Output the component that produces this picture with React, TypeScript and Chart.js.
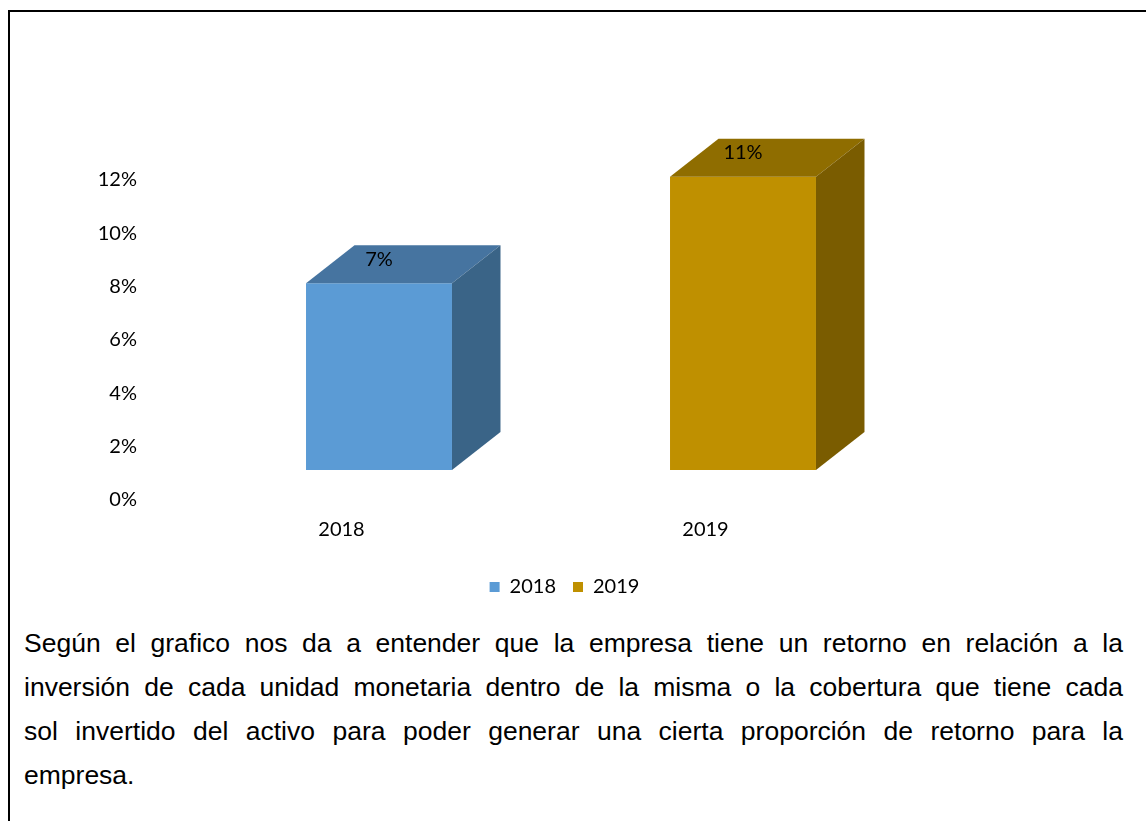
import { useEffect, useRef } from "react";
import { Chart, registerables } from "chart.js";

Chart.register(...registerables);

const categories = ["2018", "2019"];
const values = [7, 11];
const yTicks = [0, 2, 4, 6, 8, 10, 12];
const legendLabels = ["2018", "2019"];
const frontColors = ["#5B9BD5", "#BF9000"];
const topColors = ["#4674A0", "#8F6D00"];
const sideColors = ["#3A6487", "#7A5C00"];
const paragraphLines = [
  "Según el grafico nos da a entender que la empresa tiene un retorno en relación a la",
  "inversión de cada unidad monetaria dentro de la misma o la cobertura que tiene cada",
  "sol invertido del activo para poder generar una cierta proporción de retorno para la",
  "empresa.",
];

const DEPTH_X = 48.5;
const DEPTH_Y = 38;
const FONT = "Lato";

const bar3d = {
  id: "bar3d",
  afterDatasetsDraw(chart: any) {
    const ctx = chart.ctx;
    const meta = chart.getDatasetMeta(0);
    meta.data.forEach((el: any, i: number) => {
      const { x, y, base, width } = el.getProps(["x", "y", "base", "width"], true);
      const l = x - width / 2;
      const r = x + width / 2;
      ctx.save();
      ctx.fillStyle = topColors[i];
      ctx.beginPath();
      ctx.moveTo(l, y);
      ctx.lineTo(l + DEPTH_X, y - DEPTH_Y);
      ctx.lineTo(r + DEPTH_X, y - DEPTH_Y);
      ctx.lineTo(r, y);
      ctx.closePath();
      ctx.fill();
      ctx.fillStyle = sideColors[i];
      ctx.beginPath();
      ctx.moveTo(r, y);
      ctx.lineTo(r + DEPTH_X, y - DEPTH_Y);
      ctx.lineTo(r + DEPTH_X, base - DEPTH_Y);
      ctx.lineTo(r, base);
      ctx.closePath();
      ctx.fill();
      ctx.fillStyle = "#000";
      ctx.font = `20px ${FONT}`;
      ctx.textAlign = "center";
      ctx.textBaseline = "middle";
      ctx.fillText(`${values[i]}%`, x, y - 24);
      ctx.restore();
    });
  },
};

export default function App() {
  const ref = useRef<HTMLCanvasElement>(null);

  useEffect(() => {
    if (!ref.current) return;
    const chart = new Chart(ref.current, {
      type: "bar",
      data: {
        labels: categories,
        datasets: [
          {
            label: "ROA",
            data: values,
            backgroundColor: frontColors,
            borderWidth: 0,
            categoryPercentage: 1,
            barPercentage: 0.401,
          },
        ],
      },
      options: {
        responsive: false,
        animation: false,
        devicePixelRatio: 1,
        layout: { padding: { top: 138, left: 0, right: 0, bottom: 0 } },
        plugins: {
          tooltip: { enabled: false },
          legend: {
            position: "bottom",
            labels: {
              font: { family: FONT, size: 20 },
              color: "#000",
              boxWidth: 10,
              boxHeight: 10,
              padding: 17,
              generateLabels: () =>
                legendLabels.map((t, i) => ({
                  text: t,
                  fillStyle: frontColors[i],
                  strokeStyle: frontColors[i],
                  lineWidth: 0,
                  hidden: false,
                  index: i,
                  fontColor: "#000",
                })),
            },
          },
        },
        scales: {
          x: {
            grid: { display: false, drawTicks: false },
            border: { display: false },
            ticks: {
              font: { family: FONT, size: 20 },
              color: "#000",
              padding: 48,
              labelOffset: -37.5,
              maxRotation: 0,
            },
            afterFit: (s: any) => {
              s.height = 90;
            },
          },
          y: {
            min: 0,
            max: 12,
            grid: { display: false, drawTicks: false },
            border: { display: false },
            ticks: {
              font: { family: FONT, size: 20 },
              color: "#000",
              padding: 60,
              labelOffset: 30,
              callback: (v: any) => `${v}%`,
            },
            afterBuildTicks: (s: any) => {
              s.ticks = yTicks.map((v) => ({ value: v }));
            },
            afterFit: (s: any) => {
              s.width = 187;
            },
          },
          y2: {
            position: "right",
            min: 0,
            max: 12,
            grid: { display: false, drawTicks: false },
            border: { display: false },
            ticks: { display: false },
            afterFit: (s: any) => {
              s.width = 194;
            },
          },
        },
      },
      plugins: [bar3d],
    } as any);
    return () => chart.destroy();
  }, []);

  return (
    <div
      style={{
        position: "absolute",
        left: 0,
        top: 0,
        width: 1146,
        height: 821,
        overflow: "hidden",
        background: "#fff",
      }}
    >
      <div
        style={{
          position: "absolute",
          left: 8,
          top: 10,
          width: 1200,
          height: 900,
          borderTop: "2px solid #000",
          borderLeft: "2px solid #000",
        }}
      />
      <canvas
        ref={ref}
        width={1109}
        height={595}
        style={{ position: "absolute", left: 10, top: 12, width: 1109, height: 595 }}
      />
      <div
        style={{
          position: "absolute",
          left: 24,
          top: 621,
          width: 1099,
          fontFamily: '"Liberation Sans", Arial, sans-serif',
          fontSize: "26.5px",
          lineHeight: "44px",
          color: "#000",
        }}
      >
        {paragraphLines.map((line, i) => (
          <div
            key={i}
            style={{
              textAlign: "justify",
              textAlignLast: i < paragraphLines.length - 1 ? "justify" : "left",
              whiteSpace: "nowrap",
            }}
          >
            {line}
          </div>
        ))}
      </div>
    </div>
  );
}
